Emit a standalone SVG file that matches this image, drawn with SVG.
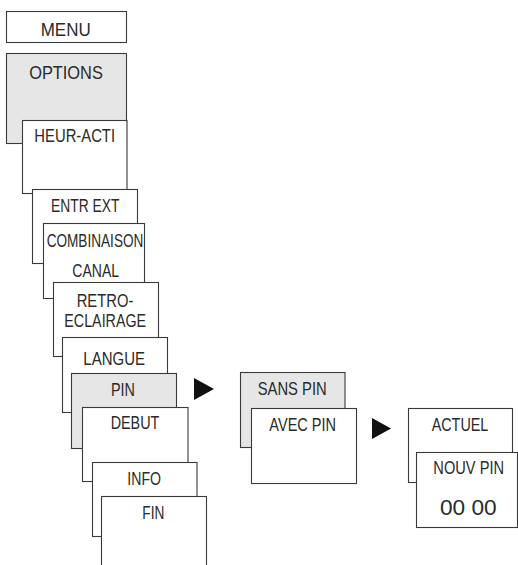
<svg xmlns="http://www.w3.org/2000/svg" width="518" height="565" viewBox="0 0 518 565">
<style>
.b{fill:#fff;stroke:#3a3a3a;stroke-width:1.1}
.g{fill:#e6e6e6;stroke:#3a3a3a;stroke-width:1.1}
text{font-family:"Liberation Sans",Arial,sans-serif;font-size:18px;fill:#2a2a2a;text-anchor:middle}
.big{font-size:21.5px}
.arr{fill:#111}
</style>
<rect width="518" height="565" fill="#fff"/>
<g id="menu"><rect class="b" x="6.5" y="11.5" width="120" height="31"/><text x="65.7" y="36" textLength="50" lengthAdjust="spacingAndGlyphs">MENU</text></g>
<g id="options"><rect class="g" x="6.5" y="53.5" width="120" height="90"/><text x="66" y="79.3" textLength="73.7" lengthAdjust="spacingAndGlyphs">OPTIONS</text></g>
<g id="heur-acti"><rect class="b" x="22.5" y="120.5" width="104.5" height="73"/><text x="74.7" y="142.3" textLength="80.7" lengthAdjust="spacingAndGlyphs">HEUR-ACTI</text></g>
<g id="entr-ext"><rect class="b" x="32.5" y="189.5" width="105" height="74"/><text x="85.2" y="212.3" textLength="68.3" lengthAdjust="spacingAndGlyphs">ENTR EXT</text></g>
<g id="combinaison"><rect class="b" x="43.5" y="223.5" width="101" height="75"/><text x="95" y="246.7" textLength="96.7" lengthAdjust="spacingAndGlyphs">COMBINAISON</text><text x="95.7" y="276.7" textLength="46.7" lengthAdjust="spacingAndGlyphs">CANAL</text></g>
<g id="retro"><rect class="b" x="53.5" y="282.5" width="105" height="74"/><text x="105" y="307.3" textLength="56.7" lengthAdjust="spacingAndGlyphs">RETRO-</text><text x="105.2" y="326.7" textLength="81.7" lengthAdjust="spacingAndGlyphs">ECLAIRAGE</text></g>
<g id="langue"><rect class="b" x="62.5" y="337.5" width="105" height="75"/><text x="114.2" y="365" textLength="61.7" lengthAdjust="spacingAndGlyphs">LANGUE</text></g>
<g id="pin"><rect class="g" x="71.5" y="373.5" width="105" height="75"/><text x="123" y="396" textLength="24" lengthAdjust="spacingAndGlyphs">PIN</text></g>
<g id="debut"><rect class="b" x="82.5" y="407.5" width="105.5" height="74"/><text x="135" y="429" textLength="48.7" lengthAdjust="spacingAndGlyphs">DEBUT</text></g>
<g id="info"><rect class="b" x="92.5" y="462.5" width="104.5" height="74"/><text x="144.2" y="485" textLength="33.7" lengthAdjust="spacingAndGlyphs">INFO</text></g>
<g id="fin"><rect class="b" x="101.5" y="496.5" width="105" height="80"/><text x="153.3" y="519" textLength="22" lengthAdjust="spacingAndGlyphs">FIN</text></g>
<g id="sans-pin"><rect class="g" x="240.5" y="372.5" width="104.5" height="75"/><text x="292.2" y="395" textLength="69" lengthAdjust="spacingAndGlyphs">SANS PIN</text></g>
<g id="avec-pin"><rect class="b" x="251.5" y="408.5" width="105" height="75"/><text x="302.7" y="430.7" textLength="66.7" lengthAdjust="spacingAndGlyphs">AVEC PIN</text></g>
<g id="actuel"><rect class="b" x="408.5" y="408.5" width="104" height="74"/><text x="460" y="431" textLength="56.7" lengthAdjust="spacingAndGlyphs">ACTUEL</text></g>
<g id="nouv-pin"><rect class="b" x="416.5" y="452.5" width="101" height="75"/><text x="468.7" y="474" textLength="70.7" lengthAdjust="spacingAndGlyphs">NOUV PIN</text><text class="big" x="468.3" y="515" textLength="56.7" lengthAdjust="spacingAndGlyphs">00 00</text></g>
<g id="connectors">
<polygon class="arr" points="194,378 214,389 194,400"/>
<polygon class="arr" points="372,418 391,428.5 372,439"/>
</g>
</svg>
